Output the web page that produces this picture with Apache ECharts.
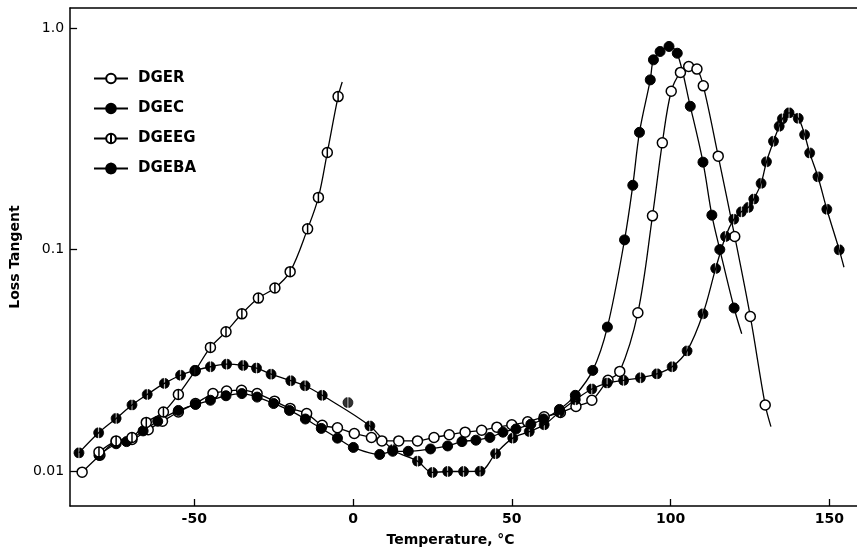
<!DOCTYPE html>
<html><head><meta charset="utf-8">
<script src="https://cdn.jsdelivr.net/npm/echarts@6/dist/echarts.min.js"></script>
<style>html,body{margin:0;padding:0;background:#fff}#c{width:857px;height:552px}</style>
</head><body><div id="c"></div>
<script>
// ---- data (temperature °C, loss tangent) ----
const xTicks = [-50, 0, 50, 100, 150];
const yTicks = [0.01, 0.1, 1.0];
const yTickLabels = ['0.01', '0.1', '1.0'];
const seriesNames = ['DGER', 'DGEC', 'DGEEG', 'DGEBA'];

const dgerT = [-85.3, -79.7, -74.6, -69.6, -64.5, -60, -55, -49.6, -44.1, -39.8, -35.1, -30.2, -24.7, -19.8, -14.6, -9.7, -4.9, 0.4, 5.8, 9.1, 14.4, 20.3, 25.5, 30.3, 35.3, 40.5, 45.3, 50, 55, 60.2, 65.3, 70.2, 75.2, 80.3, 84, 89.7, 94.3, 97.4, 100.2, 103.1, 105.7, 108.3, 110.3, 115, 120.2, 125.1, 129.8];
const dgerV = [0.0099, 0.0118, 0.0136, 0.0139, 0.0154, 0.0168, 0.0185, 0.0202, 0.0224, 0.0230, 0.0232, 0.0224, 0.0207, 0.0192, 0.0182, 0.0161, 0.0157, 0.0148, 0.0142, 0.0137, 0.0137, 0.0137, 0.0142, 0.0146, 0.0150, 0.0153, 0.0158, 0.0162, 0.0167, 0.0176, 0.0184, 0.0196, 0.0209, 0.0257, 0.0282, 0.0519, 0.142, 0.303, 0.518, 0.630, 0.670, 0.652, 0.548, 0.264, 0.1146, 0.0499, 0.0199];
const dgerTailT = [131.6];
const dgerTailV = [0.0159];

const dgecT = [-80, -74.6, -71.3, -66.1, -61.5, -55, -49.6, -44.9, -40, -35, -30.2, -25, -20, -15, -10, -4.9, 0.1, 8.4, 12.5, 17.4, 24.4, 29.8, 34.3, 38.7, 43.1, 47.2, 51.3, 56, 60, 65, 70, 75.5, 80.1, 85.5, 88.1, 90.2, 93.6, 94.6, 96.7, 99.5, 102.1, 106.2, 110.2, 113, 115.5, 120];
const dgecV = [0.0118, 0.0133, 0.0136, 0.0152, 0.0168, 0.0188, 0.0200, 0.0209, 0.0219, 0.0224, 0.0216, 0.0202, 0.0188, 0.0172, 0.0156, 0.0141, 0.0128, 0.0119, 0.0123, 0.0123, 0.0126, 0.0130, 0.0136, 0.0138, 0.0142, 0.0150, 0.0155, 0.0163, 0.0172, 0.0190, 0.0220, 0.0285, 0.0447, 0.1106, 0.195, 0.338, 0.583, 0.718, 0.783, 0.825, 0.769, 0.443, 0.248, 0.143, 0.100, 0.0545];
const dgecTailT = [122.4];
const dgecTailV = [0.0417];

const dgeegT = [-80, -74.6, -69.6, -65.1, -59.7, -55, -49.7, -44.9, -40, -35, -29.8, -24.6, -19.8, -14.3, -10.9, -8.1, -4.7];
const dgeegV = [0.0122, 0.0137, 0.0142, 0.0166, 0.0185, 0.0222, 0.0284, 0.0362, 0.0426, 0.0513, 0.0604, 0.0671, 0.0795, 0.124, 0.172, 0.274, 0.49];
const dgeegTailT = [-3.4];
const dgeegTailV = [0.57];

const dgebaT = [-86.3, -80.1, -74.6, -69.6, -64.8, -59.4, -54.3, -49.7, -44.9, -39.8, -34.6, -30.4, -25.8, -19.6, -15.1, -9.7, 5.3, 12.5, 20.3, 25, 29.8, 34.8, 40, 44.9, 50.3, 55.5, 60.2, 65, 70, 75.2, 80, 85.2, 90.5, 95.7, 100.5, 105.2, 110.2, 114.2, 117.3, 119.9, 122.3, 124.5, 126.2, 128.5, 130.2, 132.4, 134.2, 135.2, 137.3, 140.2, 142.2, 143.8, 146.4, 149.2, 153.1];
const dgebaV = [0.0121, 0.0149, 0.0173, 0.0199, 0.0222, 0.0249, 0.0271, 0.0285, 0.0296, 0.0304, 0.0300, 0.0292, 0.0274, 0.0256, 0.0243, 0.0220, 0.0160, 0.0125, 0.0111, 0.00987, 0.00997, 0.00997, 0.0100, 0.0120, 0.0141, 0.0151, 0.0162, 0.0185, 0.0210, 0.0235, 0.0250, 0.0257, 0.0264, 0.0275, 0.0296, 0.0349, 0.0513, 0.0822, 0.1146, 0.137, 0.148, 0.155, 0.169, 0.199, 0.249, 0.308, 0.360, 0.389, 0.414, 0.391, 0.330, 0.273, 0.213, 0.152, 0.0997];
const dgebaTailT = [154.6];
const dgebaTailV = [0.0832];

const strayT = [-1.6];
const strayV = [0.0204];

// ---- build ----
const L = v => Math.log10(v);
function pts(T, V, tailT, tailV) {
  const d = T.map((t, i) => [t, L(V[i])]);
  (tailT || []).forEach((t, i) => d.push({ value: [t, L(tailV[i])], symbol: 'none' }));
  return d;
}
const symOpen = 'circle';
const symBar = 'path://M0,-10A10,10 0 1,1 0,10A10,10 0 1,1 0,-10ZM0,-10L0,10';
const symHalf = 'path://M-1.6,-9.87A10,10 0 0,0 -1.6,9.87ZM1.6,-9.87A10,10 0 0,1 1.6,9.87Z';

const font = 'DejaVu Sans';
const lineStyle = { color: '#000', width: 1.3 };
function mk(name, data, symbol, fill, bw) {
  return {
    name, type: 'line', data, symbol, symbolSize: 10, smooth: 0.35,
    lineStyle, itemStyle: { color: fill, borderColor: '#000', borderWidth: bw },
    z: 3
  };
}

const chart = echarts.init(document.getElementById('c'), null, { renderer: 'canvas' });
chart.setOption({
  animation: false,
  backgroundColor: '#fff',
  grid: { left: 61, right: -2, top: 8, bottom: 44 },
  legend: {
    data: seriesNames, orient: 'vertical', left: 88, top: 66,
    itemWidth: 34, itemHeight: 12, itemGap: 15,
    textStyle: { fontFamily: font, fontWeight: 'bold', fontSize: 15, color: '#000', padding: [0, 0, 0, 5] }
  },
  xAxis: [{
    type: 'value', min: -89.1, max: 158.7,
    name: 'Temperature, °C', nameLocation: 'middle', nameGap: 27,
    nameTextStyle: { fontFamily: font, fontWeight: 'bold', fontSize: 14, color: '#000', padding: [0, 26, 0, 0] },
    axisLine: { onZero: false, lineStyle: { color: '#000', width: 1.5 } },
    axisTick: { inside: true, length: 7, customValues: xTicks, lineStyle: { color: '#000', width: 1.3 } },
    axisLabel: { customValues: xTicks, margin: 6, fontFamily: font, fontWeight: 'bold', fontSize: 14, color: '#000' },
    splitLine: { show: false }
  }, {
    type: 'value', position: 'top', min: -89.1, max: 158.7,
    axisLine: { show: true, onZero: false, lineStyle: { color: '#000', width: 1.5 } },
    axisTick: { show: false }, axisLabel: { show: false }, splitLine: { show: false }
  }],
  yAxis: {
    type: 'value', min: -2.157, max: 0.09,
    name: 'Loss Tangent', nameLocation: 'middle', nameGap: 38, nameRotate: 90,
    nameTextStyle: { fontFamily: font, fontWeight: 'bold', fontSize: 14, color: '#000' },
    axisLine: { show: true, onZero: false, lineStyle: { color: '#000', width: 1.5 } },
    axisTick: { show: true, inside: true, length: 7, customValues: yTicks.map(L), lineStyle: { color: '#000', width: 1.3 } },
    axisLabel: {
      customValues: yTicks.map(L), margin: 6, fontFamily: font, fontSize: 14, color: '#000',
      formatter: v => yTickLabels[yTicks.findIndex(t => Math.abs(L(t) - v) < 1e-6)] || ''
    },
    splitLine: { show: false }
  },
  series: [
    mk('DGER', pts(dgerT, dgerV, dgerTailT, dgerTailV), symOpen, '#fff', 1.5),
    mk('DGEC', pts(dgecT, dgecV, dgecTailT, dgecTailV), 'circle', '#000', 1),
    mk('DGEEG', pts(dgeegT, dgeegV, dgeegTailT, dgeegTailV), symBar, '#fff', 1.5),
    mk('DGEBA', pts(dgebaT, dgebaV, dgebaTailT, dgebaTailV), symHalf, '#000', 0.8),
    {
      name: 'stray', type: 'scatter', symbol: symHalf, symbolSize: 10,
      data: strayT.map((t, i) => [t, L(strayV[i])]),
      itemStyle: { color: '#000', borderColor: '#000', borderWidth: 0.8 }, z: 3
    }
  ]
});
</script>
</body></html>
